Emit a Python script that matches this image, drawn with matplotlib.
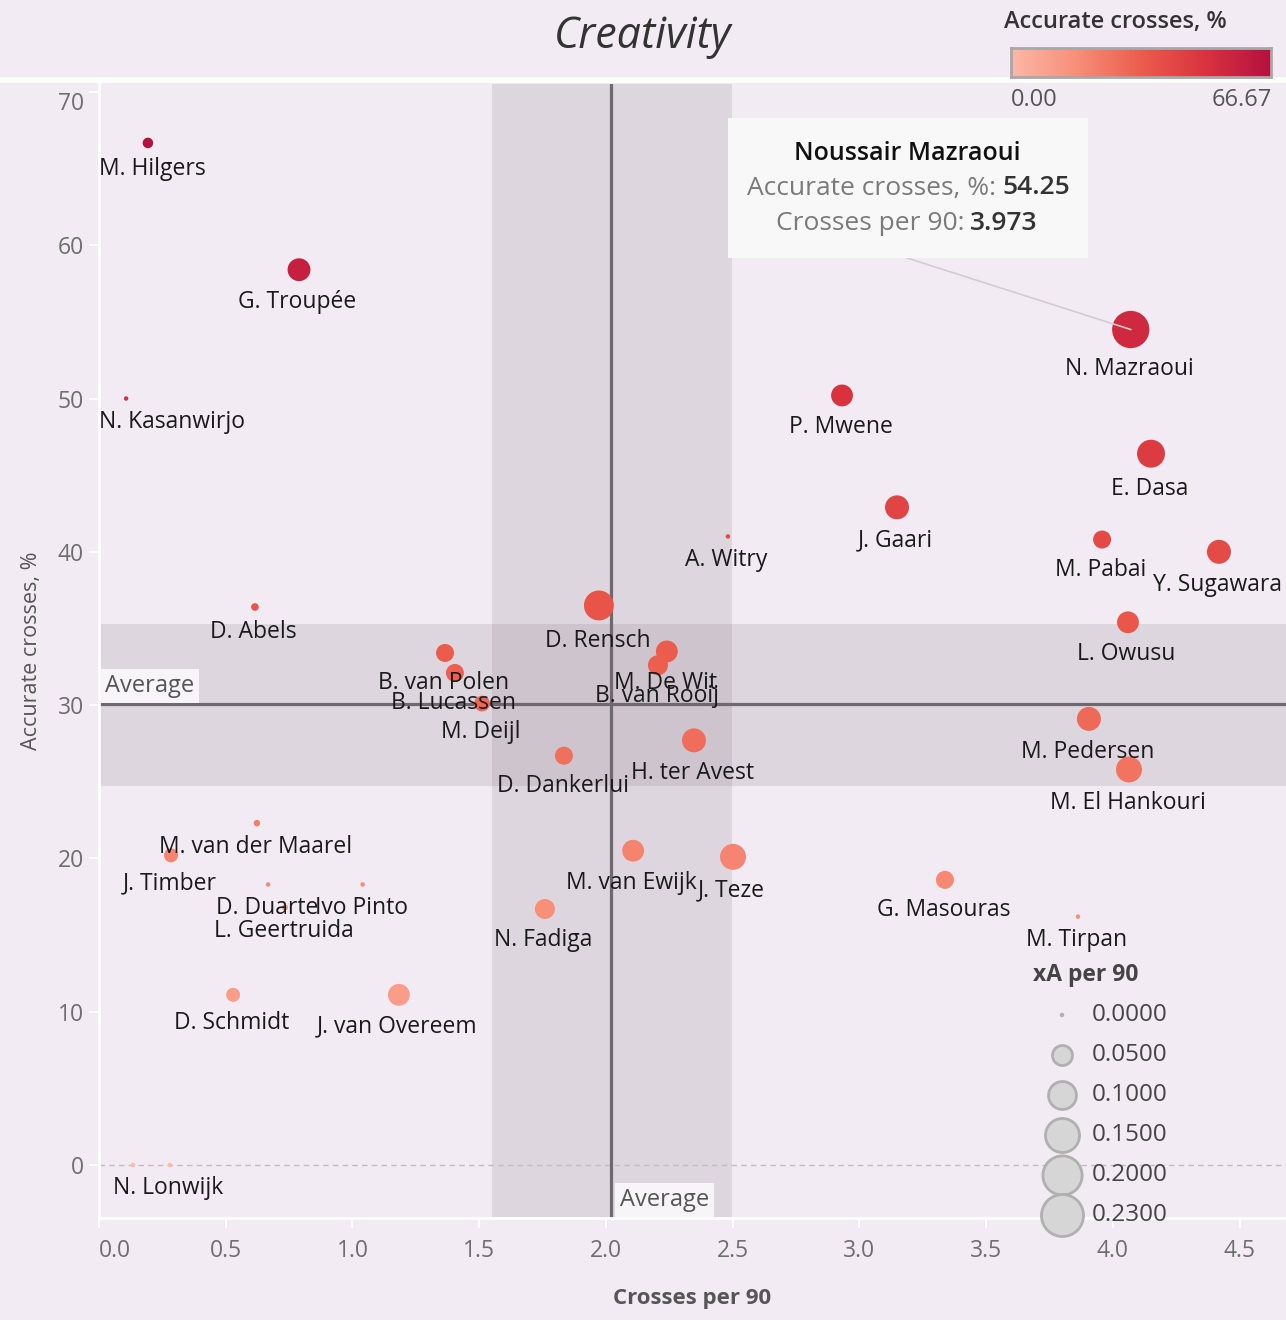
import matplotlib
matplotlib.use("Agg")
import matplotlib.pyplot as plt
import numpy as np
from matplotlib.colors import LinearSegmentedColormap

# ---------------- data ----------------
players = ["M. Hilgers", "G. Troupée", "N. Kasanwirjo", "D. Abels", "M. van der Maarel",
           "J. Timber", "D. Duarte", "Ivo Pinto", "L. Geertruida", "D. Schmidt",
           "J. van Overeem", "", "N. Lonwijk", "B. van Polen", "B. Lucassen",
           "M. Deijl", "D. Rensch", "M. De Wit", "B. van Rooij", "D. Dankerlui",
           "H. ter Avest", "M. van Ewijk", "J. Teze", "N. Fadiga", "A. Witry",
           "P. Mwene", "J. Gaari", "N. Mazraoui", "E. Dasa", "M. Pabai",
           "Y. Sugawara", "L. Owusu", "M. Pedersen", "M. El Hankouri", "G. Masouras",
           "M. Tirpan"]
crosses_per_90 = [0.193, 0.789, 0.107, 0.615, 0.623,
                  0.284, 0.667, 1.04, 0.734, 0.529,
                  1.183, 0.134, 0.28, 1.365, 1.404,
                  1.511, 1.972, 2.24, 2.205, 1.834,
                  2.347, 2.107, 2.501, 1.759, 2.481,
                  2.931, 3.148, 4.07, 4.15, 3.957,
                  4.418, 4.059, 3.905, 4.063, 3.337,
                  3.862]
accurate_pct = [66.67, 58.4, 50.0, 36.4, 22.3,
                20.2, 18.3, 18.3, 16.8, 11.1,
                11.1, 0.0, 0.0, 33.4, 32.1,
                30.1, 36.5, 33.5, 32.6, 26.7,
                27.7, 20.5, 20.1, 16.7, 41.0,
                50.2, 42.9, 54.5, 46.4, 40.8,
                40.0, 35.4, 29.1, 25.8, 18.6,
                16.2]
xa_per_90 = [0.012, 0.066, 0.0, 0.005, 0.003,
             0.023, 0.0, 0.0, 0.002, 0.023,
             0.060, 0.0, 0.0, 0.040, 0.040,
             0.030, 0.115, 0.060, 0.050, 0.040,
             0.073, 0.060, 0.086, 0.050, 0.0,
             0.060, 0.073, 0.180, 0.100, 0.040,
             0.073, 0.060, 0.073, 0.086, 0.040,
             0.0]

avg_x = 2.02
band_x = (1.55, 2.497)
avg_y = 30.1
band_y = (24.75, 35.3)

tooltip_name = "Noussair Mazraoui"
tooltip_acc = "54.25"
tooltip_cross = "3.973"
highlight_idx = 27

size_legend_vals = [0.0, 0.05, 0.10, 0.15, 0.20, 0.23]
size_legend_labels = ["0.0000", "0.0500", "0.1000", "0.1500", "0.2000", "0.2300"]
cmin, cmax = 0.0, 66.67

# ---------------- style ----------------
W, H = 1286, 1320
BG = "#f2ebf3"
FONT = ["Open Sans", "Noto Sans", "DejaVu Sans"]
plt.rcParams["font.family"] = FONT

cmap = LinearSegmentedColormap.from_list(
    "reds", ["#fcb8a8", "#f78f79", "#ec5c4c", "#d9323f", "#b3103f"])

def r2_px(v):
    return 5.0 + 1900.0 * v

def s_pts(v):
    r = np.sqrt(r2_px(np.asarray(v)))
    return (2 * r * 0.72) ** 2

fig = plt.figure(figsize=(W / 100, H / 100), dpi=100, facecolor=BG)

L, R, T, B = 99, 1286, 84, 1218
ax = fig.add_axes([L / W, 1 - B / H, (R - L) / W, (B - T) / H])
ax.set_facecolor(BG)
ax.set_xlim(0, (R - L) / 253.5)
ax.set_ylim((1165 - B) / 15.33, (1165 - T) / 15.33)

for s in ["top", "right"]:
    ax.spines[s].set_visible(False)
for s in ["left", "bottom"]:
    ax.spines[s].set_color("white")
    ax.spines[s].set_linewidth(2)

xt = np.arange(0, 4.51, 0.5)
ax.set_xticks(xt)
ax.set_xticklabels([f"{v:.1f}" for v in xt])
yt = np.arange(0, 71, 10)
ax.set_yticks(yt)
ax.set_yticklabels([f"{v:d}" for v in yt])
ax.tick_params(axis="both", colors="white", length=7, width=1.5,
               labelcolor="#6e6e6e", labelsize=16.5)
ax.tick_params(axis="x", pad=8)
ax.tick_params(axis="y", pad=4)
ax.get_xticklabels()[0].set_horizontalalignment("left")
ax.get_yticklabels()[-1].set_verticalalignment("top")

ax.set_xlabel("Crosses per 90", fontsize=16, color="#555555", fontweight="bold", labelpad=18)
ax.set_ylabel("Accurate crosses, %", fontsize=15.5, color="#555555", labelpad=11)

# bands
band_c = "#6e5f72"
ax.axvspan(band_x[0], band_x[1], color=band_c, alpha=0.15, lw=0, zorder=0.5)
ax.axhspan(band_y[0], band_y[1], color=band_c, alpha=0.15, lw=0, zorder=0.5)
ax.axvline(avg_x, color="#6f686f", lw=2.3, zorder=1)
ax.axhline(avg_y, color="#6f686f", lw=2.3, zorder=1)
ax.axhline(0, color="#c4bcc4", lw=1, ls=(0, (4, 3)), zorder=0.8)

# average labels
ax.text(0.022, avg_y + 1.15, "Average", fontsize=17, color="#555555", ha="left", va="center",
        zorder=2, bbox=dict(boxstyle="square,pad=0.22", fc="#f7f5f7", ec="none"))
ax.text(avg_x + 0.035, (1165 - 1200) / 15.33, "Average", fontsize=17, color="#555555",
        ha="left", va="center", zorder=2,
        bbox=dict(boxstyle="square,pad=0.22", fc="#f7f5f7", ec="none"))

# points
xs = np.array(crosses_per_90)
ys = np.array(accurate_pct)
xa = np.array(xa_per_90)
order = np.argsort(-xa)
ax.scatter(xs[order], ys[order], s=s_pts(xa[order]), c=ys[order], cmap=cmap,
           vmin=cmin, vmax=cmax, edgecolors="none", zorder=3)

# labels
fig.canvas.draw()
renderer = fig.canvas.get_renderer()
texts = []
for name, x, y, v in zip(players, xs, ys, xa):
    if not name:
        continue
    r = np.sqrt(r2_px(v))
    t = ax.annotate(name, (x, y), xytext=(-1, -(r + 21) * 0.72), textcoords="offset points",
                    ha="center", va="center", fontsize=16.5, color="#1a1a1a", zorder=5)
    texts.append(t)
fig.canvas.draw()
for t in texts:
    bb = t.get_window_extent(renderer)
    if bb.x0 < L:
        shift = (L - bb.x0) * 0.72
        xy0 = t.xyann
        t.xyann = (xy0[0] + shift, xy0[1])
    elif bb.x1 > W:
        shift = (bb.x1 - W) * 0.72
        xy0 = t.xyann
        t.xyann = (xy0[0] - shift, xy0[1])

# overlay in pixel coordinates
ov = fig.add_axes([0, 0, 1, 1], facecolor="none")
ov.set_xlim(0, W)
ov.set_ylim(H, 0)
ov.axis("off")

# tooltip
hx = ax.transData.transform((xs[highlight_idx], ys[highlight_idx]))
hx_px = (hx[0], H - hx[1])
ov.plot([907, hx_px[0]], [258, hx_px[1]], color="#d2cdd2", lw=1.2, zorder=1)
ov.add_patch(plt.Rectangle((728, 118), 360, 140, fc="#f8f8f8", ec="none", zorder=2))
ov.text(907, 153, tooltip_name, fontsize=18, fontweight="semibold", color="#111111",
        ha="center", va="center", zorder=3)
ov.text(996, 188, "Accurate crosses, %:", fontsize=19, color="#7a7a7a", ha="right", va="center", zorder=3)
ov.text(1002, 188, tooltip_acc, fontsize=19, fontweight="semibold", color="#333333",
        ha="left", va="center", zorder=3)
ov.text(964, 223, "Crosses per 90:", fontsize=19, color="#7a7a7a", ha="right", va="center", zorder=3)
ov.text(970, 223, tooltip_cross, fontsize=19, fontweight="semibold", color="#333333",
        ha="left", va="center", zorder=3)

# header
ov.add_patch(plt.Rectangle((0, 77), W, 6, fc="white", ec="none", zorder=2))
ov.text(643, 37, "Creativity", fontsize=31, fontstyle="italic", color="#333333",
        ha="center", va="center")

# colour legend
ov.text(1115, 22, "Accurate crosses, %", fontsize=17, fontweight="semibold", color="#333333",
        ha="center", va="center")
cax = fig.add_axes([1011 / W, 1 - 77 / H, 260 / W, 29 / H])
cax.imshow(np.linspace(0, 1, 256)[None, :], aspect="auto", cmap=cmap, extent=[0, 1, 0, 1])
cax.set_xticks([])
cax.set_yticks([])
for s in cax.spines.values():
    s.set_color("#a8a8a8")
    s.set_linewidth(2)
ov.text(1011, 100, f"{cmin:.2f}", fontsize=17, color="#555555", ha="left", va="center")
ov.text(1272, 100, f"{cmax:.2f}", fontsize=17, color="#555555", ha="right", va="center")

# size legend
ov.text(1086, 975, "xA per 90", fontsize=16.5, fontweight="bold", color="#444444",
        ha="center", va="center")
for i, (v, lab) in enumerate(zip(size_legend_vals, size_legend_labels)):
    yy = 1015 + 40 * i
    if v == 0:
        ov.scatter([1062], [yy], s=s_pts(v), c="#b0b0b0", edgecolors="none", zorder=3)
    else:
        ov.scatter([1062], [yy], s=s_pts(v), c="#d6d6d6", edgecolors="#b0b0b0",
                   linewidths=2, zorder=3)
    ov.text(1092, yy, lab, fontsize=17.5, color="#444444", ha="left", va="center")

fig.savefig("out.png", dpi=100, facecolor=BG)
